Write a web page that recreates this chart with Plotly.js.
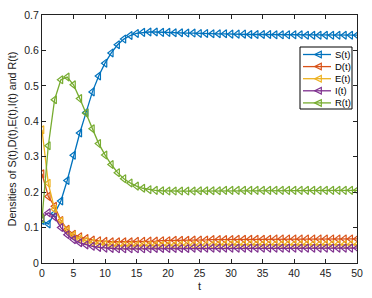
<!DOCTYPE html>
<html><head><meta charset="utf-8">
<script src="https://cdn.plot.ly/plotly-3.0.1.min.js"></script>
<style>html,body{margin:0;padding:0;background:#fff;}#chart{width:372px;height:298px;}</style>
</head><body><div id="chart"></div>
<script>
const t = Array.from({length: 51}, (_, i) => i);
const S = [0.120,0.110,0.140,0.175,0.233,0.304,0.367,0.425,0.483,0.528,0.564,0.593,0.616,0.632,0.642,0.648,0.651,0.652,0.652,0.651,
0.651,0.650,0.650,0.649,0.649,0.648,0.648,0.647,0.647,0.647,0.646,0.646,0.646,0.645,0.645,0.645,0.645,0.644,0.644,0.644,
0.644,0.644,0.643,0.643,0.643,0.643,0.643,0.643,0.643,0.643,0.643];
const D = [0.252,0.188,0.160,0.120,0.095,0.081,0.074,0.069,0.065,0.063,0.061,0.060,0.060,0.060,0.060,0.061,0.061,0.062,0.062,0.063,
0.063,0.064,0.064,0.064,0.065,0.065,0.065,0.066,0.066,0.066,0.066,0.067,0.067,0.067,0.067,0.067,0.067,0.068,0.068,0.068,
0.068,0.068,0.068,0.068,0.068,0.068,0.068,0.068,0.068,0.068,0.068];
const E = [0.376,0.225,0.152,0.118,0.092,0.078,0.068,0.062,0.057,0.054,0.052,0.050,0.049,0.049,0.049,0.049,0.049,0.050,0.050,0.050,
0.050,0.050,0.051,0.051,0.051,0.051,0.051,0.051,0.052,0.052,0.052,0.052,0.052,0.052,0.052,0.052,0.052,0.052,0.052,0.052,
0.052,0.052,0.052,0.052,0.052,0.052,0.052,0.052,0.052,0.052,0.052];
const I = [0.128,0.142,0.130,0.100,0.080,0.066,0.057,0.051,0.047,0.044,0.042,0.041,0.040,0.040,0.040,0.040,0.040,0.040,0.041,0.041,
0.041,0.041,0.041,0.041,0.042,0.042,0.042,0.042,0.042,0.042,0.042,0.042,0.042,0.042,0.042,0.042,0.042,0.042,0.042,0.042,
0.042,0.042,0.042,0.042,0.042,0.042,0.042,0.042,0.042,0.042,0.042];
const R = [0.125,0.331,0.461,0.517,0.525,0.503,0.464,0.423,0.379,0.337,0.305,0.278,0.255,0.238,0.226,0.217,0.211,0.207,0.205,0.204,
0.203,0.203,0.203,0.203,0.203,0.204,0.204,0.204,0.204,0.205,0.205,0.205,0.205,0.205,0.205,0.205,0.205,0.205,0.205,0.205,
0.205,0.205,0.205,0.205,0.205,0.205,0.205,0.205,0.205,0.205,0.205];
const names = ['S(t)','D(t)','E(t)','I(t)','R(t)'];
const series = [S, D, E, I, R];
const colors = ['#0072BD','#D95319','#EDB120','#7E2F8E','#77AC30'];

const traces = series.map((y, k) => ({
  x: t, y: y, name: names[k], type: 'scatter', mode: 'lines+markers', showlegend: false,
  line: {color: colors[k], width: 1.3},
  marker: {symbol: 'triangle-left-open', size: 7, color: colors[k], line: {width: 1.2, color: colors[k]}}
}));

// compact MATLAB-style legend built from layout shapes/annotations (pixel -> paper helpers)
const W = 372, H = 298, M = {l: 42, r: 15, t: 15, b: 35};
const pw = W - M.l - M.r, ph = H - M.t - M.b;
const px = x => (x - M.l) / pw;
const py = y => (H - M.b - y) / ph;
const shapes = [{type: 'rect', xref: 'paper', yref: 'paper', x0: px(300), x1: px(352), y0: py(47), y1: py(109),
  line: {color: '#000', width: 1}, fillcolor: '#fff', layer: 'above'}];
const annotations = [];
names.forEach((n, k) => {
  const cy = 54.5 + k * 12.1;
  shapes.push({type: 'line', xref: 'paper', yref: 'paper', x0: px(303), x1: px(331), y0: py(cy), y1: py(cy),
    line: {color: colors[k], width: 1.3}, layer: 'above'});
  const cx = 318, s = 3.3;
  shapes.push({type: 'path', xref: 'paper', yref: 'paper', layer: 'above',
    path: `M ${px(cx - s)} ${py(cy)} L ${px(cx + s)} ${py(cy - s)} L ${px(cx + s)} ${py(cy + s)} Z`,
    line: {color: colors[k], width: 1.2}, fillcolor: 'rgba(0,0,0,0)'});
  annotations.push({xref: 'paper', yref: 'paper', x: px(333), y: py(cy), xanchor: 'left', yanchor: 'middle',
    text: n, showarrow: false, font: {size: 9.5, color: '#000'}});
});

const layout = {
  width: W, height: H, margin: M,
  paper_bgcolor: '#fff', plot_bgcolor: '#fff',
  font: {family: 'Liberation Sans, Arial, sans-serif', size: 10, color: '#222'},
  showlegend: false, shapes: shapes, annotations: annotations,
  xaxis: {range: [0, 50], tickvals: [0,5,10,15,20,25,30,35,40,45,50], ticks: 'inside', ticklen: 4,
    tickcolor: '#222', linecolor: '#222', linewidth: 1, mirror: 'ticks', showgrid: false, zeroline: false,
    tickfont: {size: 10.5},
    title: {text: 't', standoff: 4, font: {size: 11}}},
  yaxis: {range: [0, 0.7], tickvals: [0,0.1,0.2,0.3,0.4,0.5,0.6,0.7], ticktext: ['0','0.1','0.2','0.3','0.4','0.5','0.6','0.7'],
    ticks: 'inside', ticklen: 4, tickcolor: '#222', linecolor: '#222', linewidth: 1, mirror: 'ticks',
    showgrid: false, zeroline: false, tickfont: {size: 10.5},
    title: {text: 'Densities of S(t),D(t),E(t),I(t) and R(t)', standoff: 5, font: {size: 10.7}}}
};
Plotly.newPlot('chart', traces, layout, {staticPlot: true, displayModeBar: false});
</script></body></html>
